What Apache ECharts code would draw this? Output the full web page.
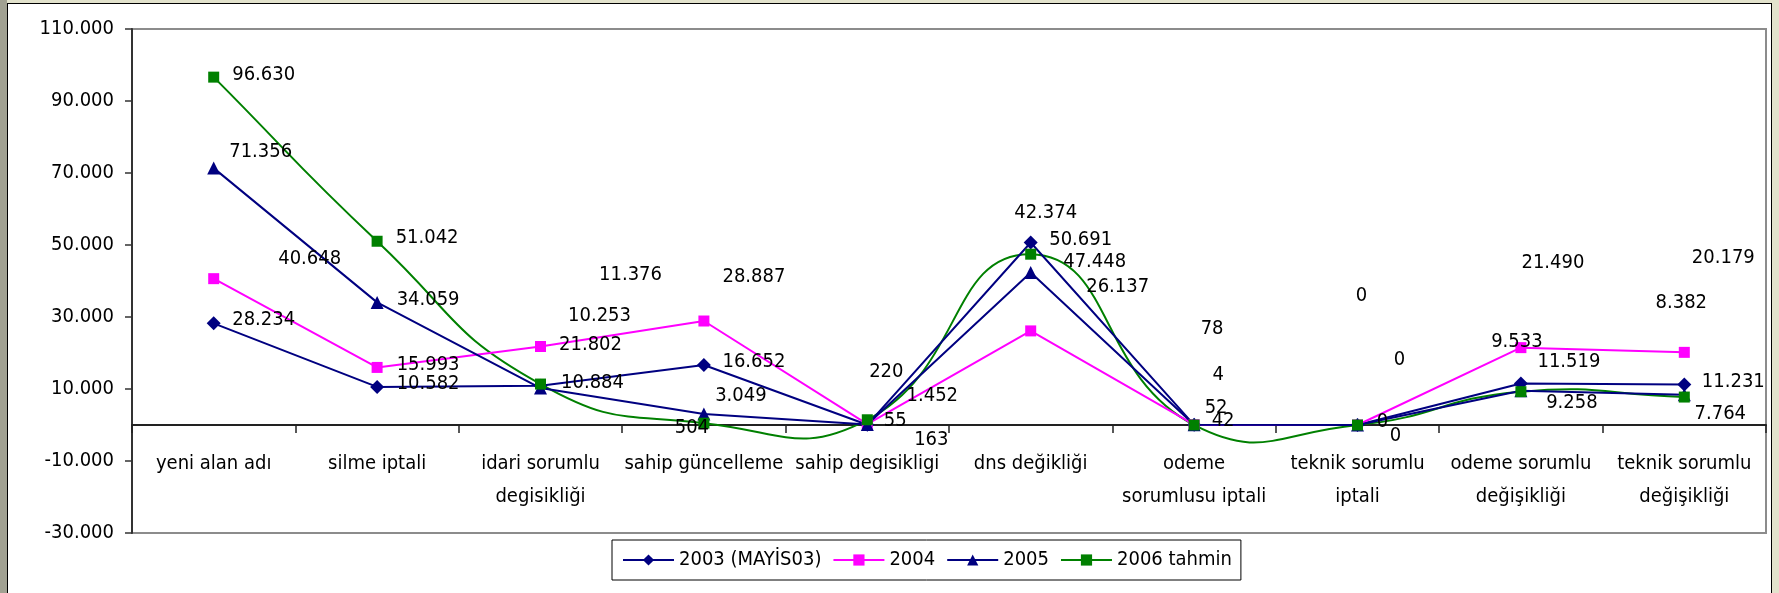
<!DOCTYPE html>
<html>
<head>
<meta charset="utf-8">
<title>alan adı işlemleri</title>
<script src="https://cdn.jsdelivr.net/npm/echarts@6/dist/echarts.min.js"></script>
<style>
  html, body {
    margin: 0;
    padding: 0;
    width: 1779px;
    height: 593px;
    overflow: hidden;
    background: #e2e2cc;
  }
  #leftBand {
    position: absolute;
    left: 0;
    top: 0;
    width: 7px;
    height: 593px;
    background: #a1a192;
  }
  #frame {
    position: absolute;
    left: 7px;
    top: 3px;
    width: 1763px;
    height: 620px;
    background: #fff;
    border: 1px solid #000;
  }
  #chart {
    position: absolute;
    left: 0;
    top: 0;
    width: 1779px;
    height: 593px;
  }
</style>
</head>
<body>
<div id="leftBand"></div>
<div id="frame"></div>
<div id="chart"></div>
<script>
const categories = [
  "yeni alan adı",
  "silme iptali",
  "idari sorumlu\ndegisikliği",
  "sahip güncelleme",
  "sahip degisikligi",
  "dns değikliği",
  "odeme\nsorumlusu iptali",
  "teknik sorumlu\niptali",
  "odeme sorumlu\ndeğişikliği",
  "teknik sorumlu\ndeğişikliği",
];

const seriesNames = ["2003 (MAYİS03)", "2004", "2005", "2006 tahmin"];

const values2003 = [28234, 10582, 10884, 16652, 55, 50691, 42, 0, 11519, 11231];
const values2004 = [40648, 15993, 21802, 28887, 220, 26137, 78, 0, 21490, 20179];
const values2005 = [71356, 34059, 10253, 3049, 163, 42374, 52, 0, 9533, 8382];
const values2006 = [96630, 51042, 11376, 504, 1452, 47448, 4, 0, 9258, 7764];

// y ekseni: -30.000 ... 110.000
const yMin = -30000;
const yMax = 110000;
const yStep = 20000;

// etiketlerin noktaya göre kaydırması (px)
const offsets2003 = [[50, -4], [51, -3], [52, -3], [50, -3], [28, -4], [50, -3], [29, -4], [25, -3], [48, -22], [49, -3]];
const offsets2004 = [[96, -20], [51, -3], [50, -2], [50, -44], [19, -52], [87, -44], [18, -96], [4, -129], [32, -85], [39, -95]];
const offsets2005 = [[47, -16], [51, -3], [59, -72], [37, -18], [64, 15], [15, -60], [22, -17], [42, -65], [-4, -49], [-3, -92]];
const offsets2006 = [[50, -2], [50, -3], [90, -109], [-12, 5], [65, -24], [64, 8], [24, -50], [38, 11], [51, 11], [36, 17]];

const fontName = "'DejaVu Sans Condensed', 'Noto Sans', sans-serif";
const green = "#008000";

function trNumber(v) {
  return String(v).replace(/\B(?=(\d{3})+(?!\d))/g, ".");
}

function withLabels(values, offsets) {
  return values.map((v, i) => ({
    value: v,
    label: { offset: offsets[i] },
  }));
}

function makeSeries(name, values, offsets, color, symbol, size) {
  return {
    name: name,
    type: "line",
    data: withLabels(values, offsets),
    symbol: symbol,
    symbolSize: size,
    showAllSymbol: true,
    lineStyle: { color: color, width: 2 },
    itemStyle: { color: color },
    label: {
      show: true,
      position: "inside",
      color: "#000",
      fontSize: 20,
      fontFamily: fontName,
      formatter: (p) => trNumber(p.value),
    },
    emphasis: { disabled: true },
  };
}

// Excel tarzı yumuşatılmış çizgi (aşırı salınıma izin verir)
function smoothSegment(params, api) {
  const i = params.dataIndex;
  const n = values2006.length;
  if (i >= n - 1) return null;
  const pt = (j) => {
    const k = Math.max(0, Math.min(n - 1, j));
    return api.coord([k, values2006[k]]);
  };
  const p0 = pt(i - 1), p1 = pt(i), p2 = pt(i + 1), p3 = pt(i + 2);
  const s = 0.5;
  const dist = (a, b) => Math.hypot(b[0] - a[0], b[1] - a[1]);

  // p1 noktasındaki çıkış kontrol noktası
  let d0 = dist(p0, p1), d1 = dist(p1, p2);
  let r = d0 + d1 > 0 ? d1 / (d0 + d1) : 0;
  const c1 = [p1[0] + (p2[0] - p0[0]) * s * r, p1[1] + (p2[1] - p0[1]) * s * r];

  // p2 noktasındaki giriş kontrol noktası
  d0 = dist(p1, p2);
  d1 = dist(p2, p3);
  r = d0 + d1 > 0 ? d0 / (d0 + d1) : 0;
  const c2 = [p2[0] - (p3[0] - p1[0]) * s * r, p2[1] - (p3[1] - p1[1]) * s * r];

  return {
    type: "bezierCurve",
    shape: {
      x1: p1[0], y1: p1[1],
      x2: p2[0], y2: p2[1],
      cpx1: c1[0], cpy1: c1[1],
      cpx2: c2[0], cpy2: c2[1],
    },
    style: { stroke: green, lineWidth: 2, fill: null },
    silent: true,
  };
}

let chart = echarts.init(document.getElementById("chart"));

let options = {
  animation: false,
  textStyle: { fontFamily: fontName },
  grid: {
    left: 132,
    right: 13,
    top: 29,
    bottom: 60,
    outerBoundsMode: "none",
    show: true,
    borderColor: "#8c8c8c",
    borderWidth: 2,
    backgroundColor: "transparent",
  },
  legend: {
    data: [
      seriesNames[0],
      seriesNames[1],
      seriesNames[2],
      { name: seriesNames[3], lineStyle: { opacity: 1, color: green, width: 2 } },
    ],
    left: 612,
    top: 540,
    padding: [10, 9, 10, 10],
    borderColor: "#000",
    borderWidth: 1,
    itemWidth: 51,
    itemHeight: 14,
    itemGap: 11,
    textStyle: { fontSize: 20, color: "#000", fontFamily: fontName },
  },
  xAxis: {
    type: "category",
    data: categories,
    boundaryGap: true,
    axisLine: { onZero: true, lineStyle: { color: "#222", width: 2 } },
    axisTick: { show: true, interval: 0, length: 8, lineStyle: { color: "#222", width: 1.5 } },
    axisLabel: {
      interval: 0,
      // etiketler sıfır çizgisinin hemen altında
      margin: -86,
      fontSize: 20,
      lineHeight: 33,
      color: "#000",
      fontFamily: fontName,
    },
    splitLine: { show: false },
  },
  yAxis: {
    type: "value",
    min: yMin,
    max: yMax,
    interval: yStep,
    axisLine: { show: true, lineStyle: { color: "#333", width: 2 } },
    axisTick: { show: true, length: 7, lineStyle: { color: "#333", width: 1.5 } },
    axisLabel: {
      margin: 18,
      fontSize: 20,
      color: "#000",
      fontFamily: fontName,
      formatter: (v) => trNumber(v),
    },
    splitLine: { show: false },
  },
  series: [
    makeSeries(seriesNames[0], values2003, offsets2003, "#000080", "diamond", 14),
    makeSeries(seriesNames[1], values2004, offsets2004, "#ff00ff", "rect", 11),
    makeSeries(seriesNames[2], values2005, offsets2005, "#000080", "triangle", 13),
    {
      type: "custom",
      name: "2006 eğri",
      data: values2006,
      renderItem: smoothSegment,
      silent: true,
    },
    Object.assign(
      makeSeries(seriesNames[3], values2006, offsets2006, green, "rect", 11),
      { lineStyle: { color: green, width: 2, opacity: 0 } }
    ),
  ],
};

chart.setOption(options);
</script>
</body>
</html>
